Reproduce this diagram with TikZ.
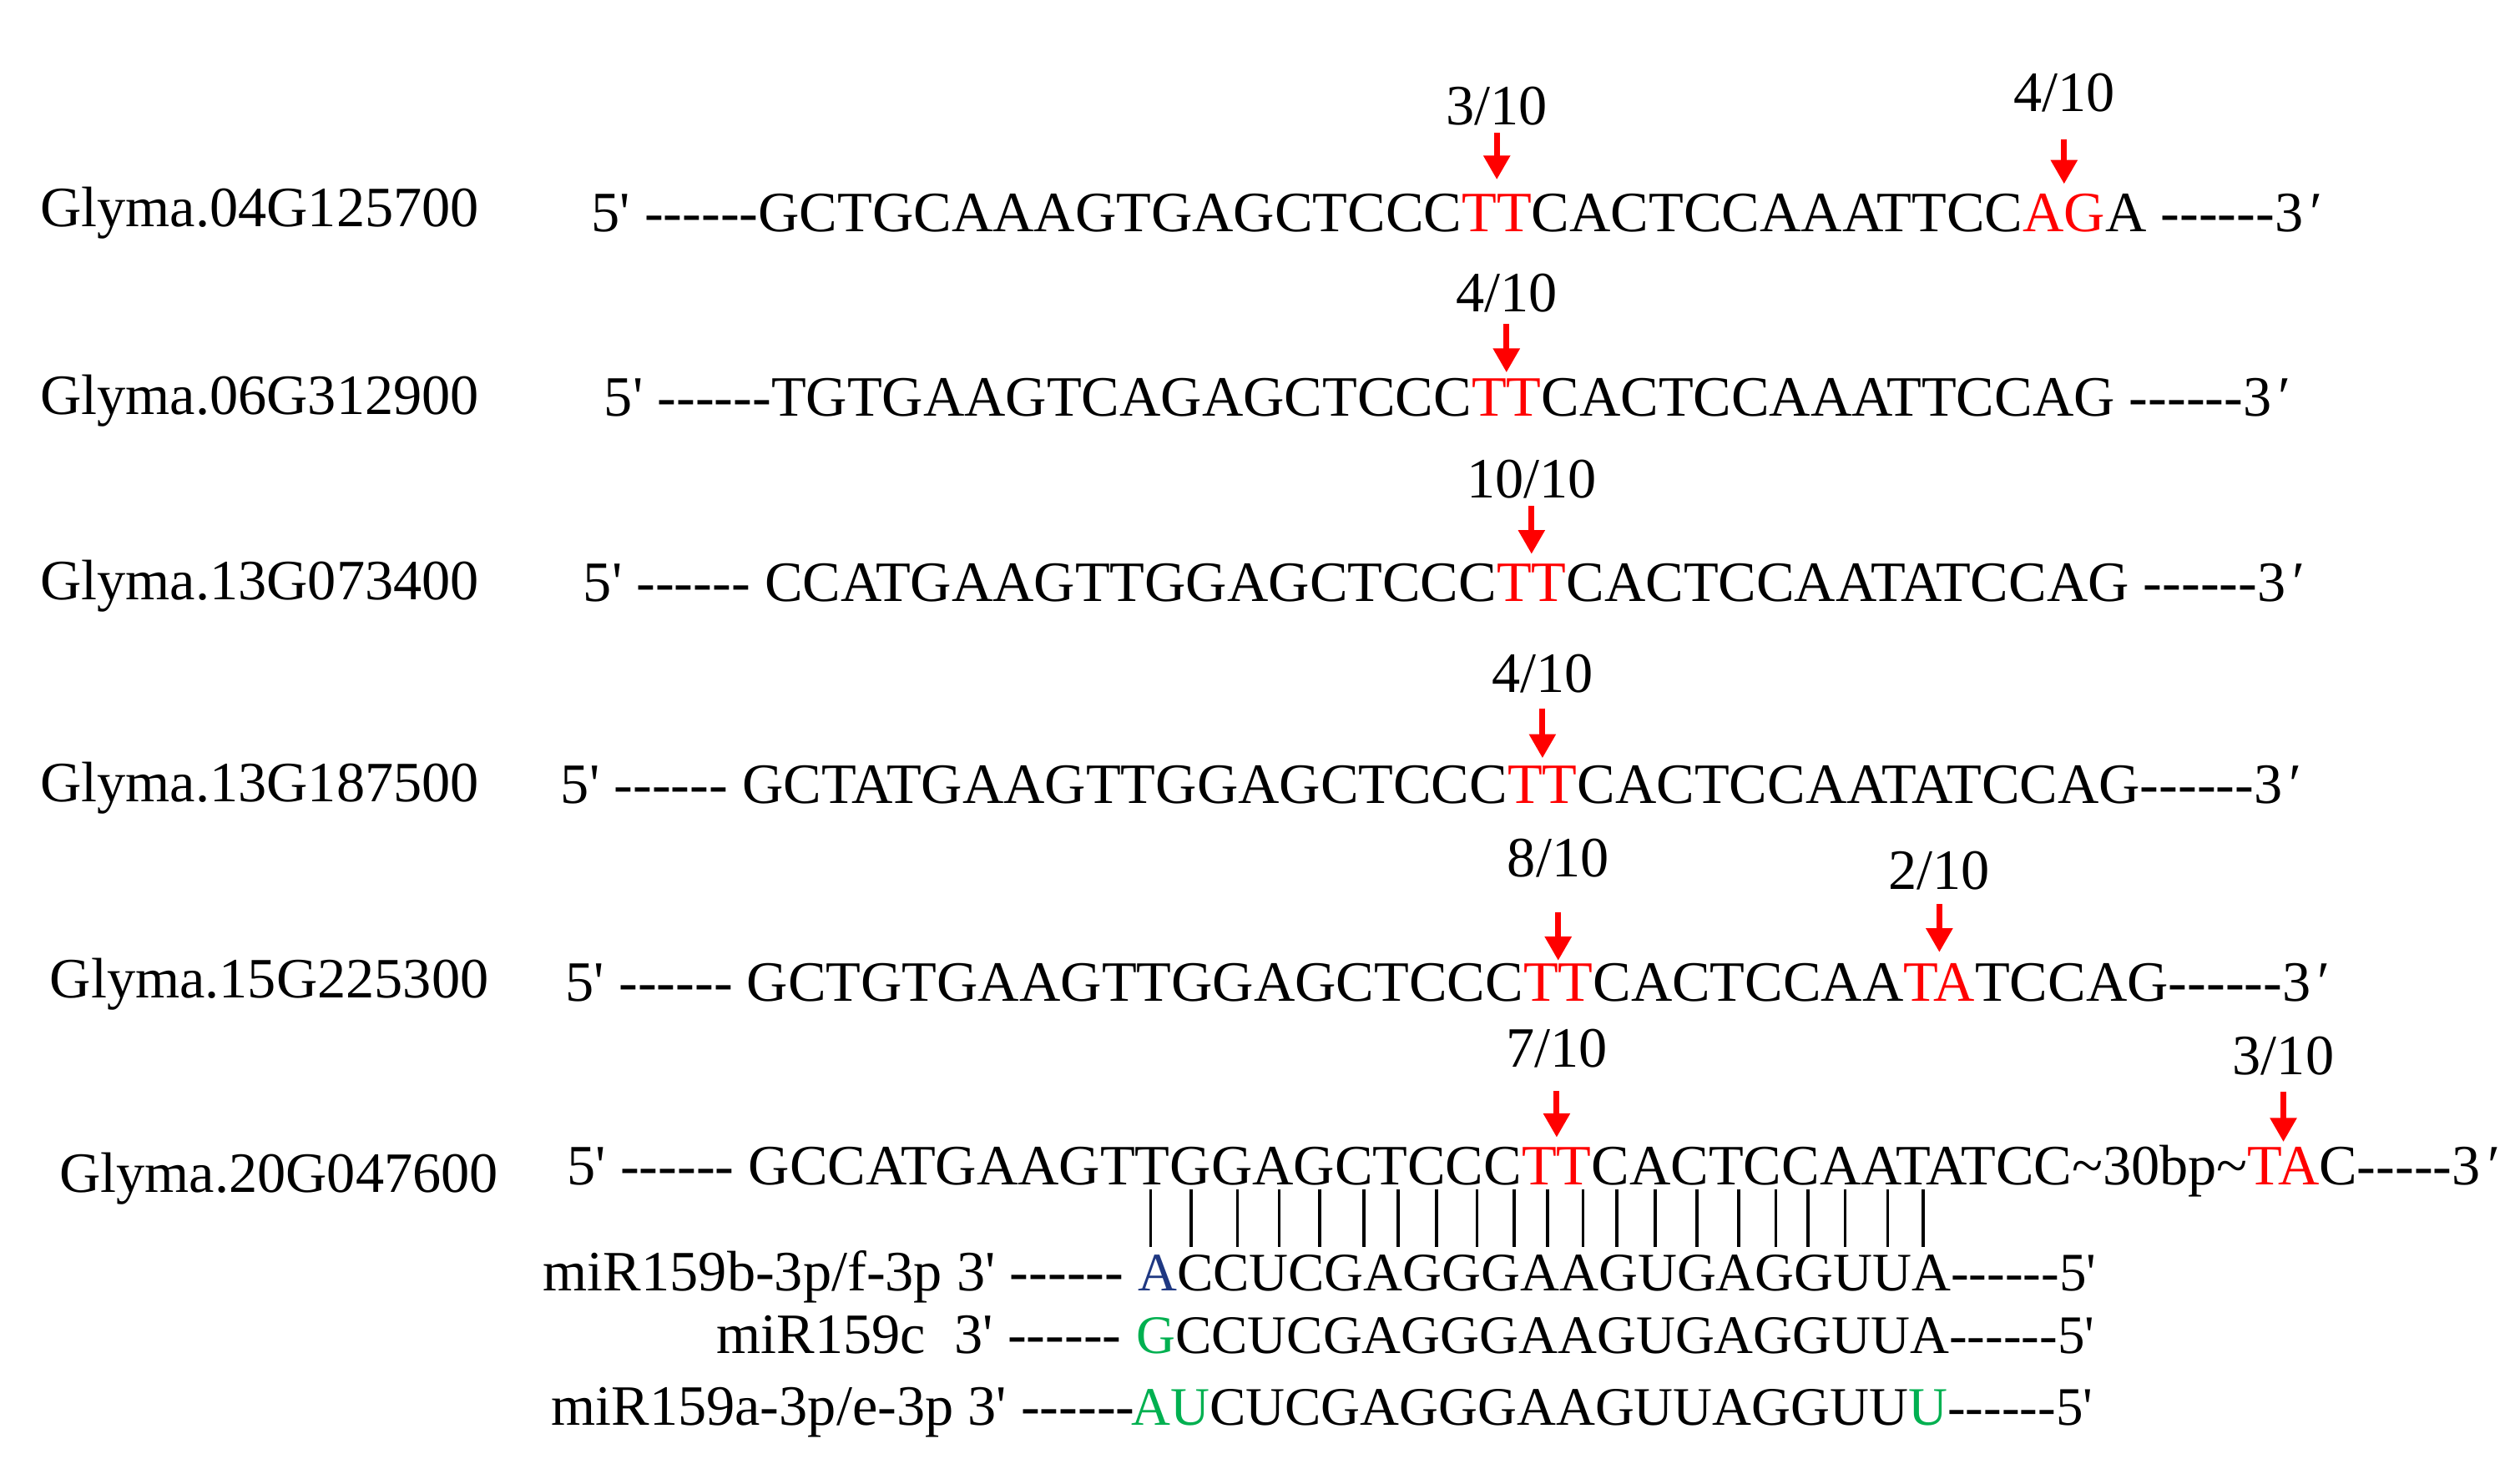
\documentclass[tikz,border=0pt]{standalone}
\usepackage{fontspec}
\newfontfamily\seqfont{Liberation Serif}[Ligatures=TeXOff]
\usetikzlibrary{arrows.meta,calc}
\definecolor{mred}{RGB}{255,0,0}
\definecolor{mgreen}{RGB}{0,176,80}
\definecolor{mblue}{RGB}{31,56,130}
\newcommand\thr{3\kern0.12em′}
\begin{document}
\begin{tikzpicture}[x=0.02cm,y=-0.02cm,
  txt/.style={font=\seqfont\fontsize{20.2pt}{24pt}\selectfont, inner sep=0pt, outer sep=0pt},
  seq/.style={txt, anchor=base west},
  mir/.style={seq, font=\seqfont\fontsize{19.2pt}{23pt}\selectfont},
  hit/.style={txt, anchor=base west, text=mred},
  frac/.style={txt, anchor=base},
  cut/.style={draw=mred, line width=2.1pt, -{Triangle[width=9pt,length=8.5pt,fill=mred]}},
  pair/.style={line width=1.1pt}]
\useasboundingbox (0,0) rectangle (1568,914);

% gene labels
\node[seq] (g1) at (25,141) {Glyma.04G125700};
\node[seq] (g2) at (25,258) {Glyma.06G312900};
\node[seq] (g3) at (25,373) {Glyma.13G073400};
\node[seq] (g4) at (25,499) {Glyma.13G187500};
\node[seq] (g5) at (31,621) {Glyma.15G225300};
\node[seq] (g6) at (37,742) {Glyma.20G047600};

% row 1
\node[seq] (s1a) at (368,144) {5' ------GCTGCAAAGTGAGCTCCC};
\node[hit] (s1b) at (s1a.base east) {TT};
\node[seq] (s1c) at (s1b.base east) {CACTCCAAATTCC};
\node[hit] (s1d) at (s1c.base east) {AG};
\node[seq] (s1e) at (s1d.base east) {A ------\thr};
\draw[cut] ($(s1b.north)+(0,-38)$) -- ($(s1b.north)+(0,-9)$);
\node[frac] (f1b) at ($(s1b.north)+(0,-43)$) {3/10};
\draw[cut] ($(s1d.north)+(0,-34)$) -- ($(s1d.north)+(0,-6)$);
\node[frac] (f1d) at ($(s1d.north)+(0,-51)$) {4/10};

% row 2
\node[seq] (s2a) at (376,259) {5' ------TGTGAAGTCAGAGCTCCC};
\node[hit] (s2b) at (s2a.base east) {TT};
\node[seq] (s2c) at (s2b.base east) {CACTCCAAATTCCAG ------\thr};
\draw[cut] ($(s2b.north)+(0,-34)$) -- ($(s2b.north)+(0,-4)$);
\node[frac] (f2b) at ($(s2b.north)+(0,-42)$) {4/10};

% row 3
\node[seq] (s3a) at (363,374) {5' ------ CCATGAAGTTGGAGCTCCC};
\node[hit] (s3b) at (s3a.base east) {TT};
\node[seq] (s3c) at (s3b.base east) {CACTCCAATATCCAG ------\thr};
\draw[cut] ($(s3b.north)+(0,-36)$) -- ($(s3b.north)+(0,-6)$);
\node[frac] (f3b) at ($(s3b.north)+(0,-41)$) {10/10};

% row 4
\node[seq] (s4a) at (349,500) {5' ------ GCTATGAAGTTGGAGCTCCC};
\node[hit] (s4b) at (s4a.base east) {TT};
\node[seq] (s4c) at (s4b.base east) {CACTCCAATATCCAG------\thr};
\draw[cut] ($(s4b.north)+(0,-36)$) -- ($(s4b.north)+(0,-5)$);
\node[frac] (f4b) at ($(s4b.north)+(0,-46)$) {4/10};

% row 5
\node[seq] (s5a) at (352,623) {5' ------ GCTGTGAAGTTGGAGCTCCC};
\node[hit] (s5b) at (s5a.base east) {TT};
\node[seq] (s5c) at (s5b.base east) {CACTCCAA};
\node[hit] (s5d) at (s5c.base east) {TA};
\node[seq] (s5e) at (s5d.base east) {TCCAG------\thr};
\draw[cut] ($(s5b.north)+(0,-32)$) -- ($(s5b.north)+(0,-2)$);
\node[frac] (f5b) at ($(s5b.north)+(0,-54)$) {8/10};
\draw[cut] ($(s5d.north)+(0,-37)$) -- ($(s5d.north)+(0,-7)$);
\node[frac] (f5d) at ($(s5d.north)+(0,-46)$) {2/10};

% row 6
\node[seq] (s6a) at (353,737) {5' ------ GCCATGAAGTTGGAGCTCCC};
\node[hit] (s6b) at (s6a.base east) {TT};
\node[seq] (s6c) at (s6b.base east) {CACTCCAATATCC\char"7E 30bp\char"7E};
\node[hit] (s6d) at (s6c.base east) {TA};
\node[seq] (s6e) at (s6d.base east) {C-----\thr};
\draw[cut] ($(s6b.north)+(0,-35)$) -- ($(s6b.north)+(0,-6)$);
\node[frac] (f6b) at ($(s6b.north)+(0,-50)$) {7/10};
\draw[cut] ($(s6d.north)+(0,-34)$) -- ($(s6d.north)+(0,-3)$);
\node[frac] (f6d) at ($(s6d.north)+(0,-45)$) {3/10};

% pairing bars
\foreach \bx in {716,741,770,796,821,848.5,870,894,919,942,963,985,1006,1030,1056,1082,1105,1125,1148,1174.5,1196.5}
  \draw[pair] (\bx,740) -- (\bx,776);

% miRNA rows
\node[seq] (m1a) at (338,803) {miR159b-3p/f-3p 3' ------};
\node[mir, text=mblue] (m1b) at (708,803) {A};
\node[mir] (m1c) at (m1b.base east) {CCUCGAGGGAAGUGAGGUUA------5'};

\node[seq] (m2a) at (446,842) {miR159c\kern0.5em 3' ------};
\node[mir, text=mgreen] (m2b) at (707,842) {G};
\node[mir] (m2c) at (m2b.base east) {CCUCGAGGGAAGUGAGGUUA------5'};

\node[seq] (m3a) at (343,887) {miR159a-3p/e-3p 3' ------};
\node[mir, text=mgreen] (m3b) at (704,887) {AU};
\node[mir] (m3c) at (m3b.base east) {CUCGAGGGAAGUUAGGUU};
\node[mir, text=mgreen] (m3d) at (m3c.base east) {U};
\node[mir] (m3e) at (m3d.base east) {------5'};
\end{tikzpicture}
\end{document}
